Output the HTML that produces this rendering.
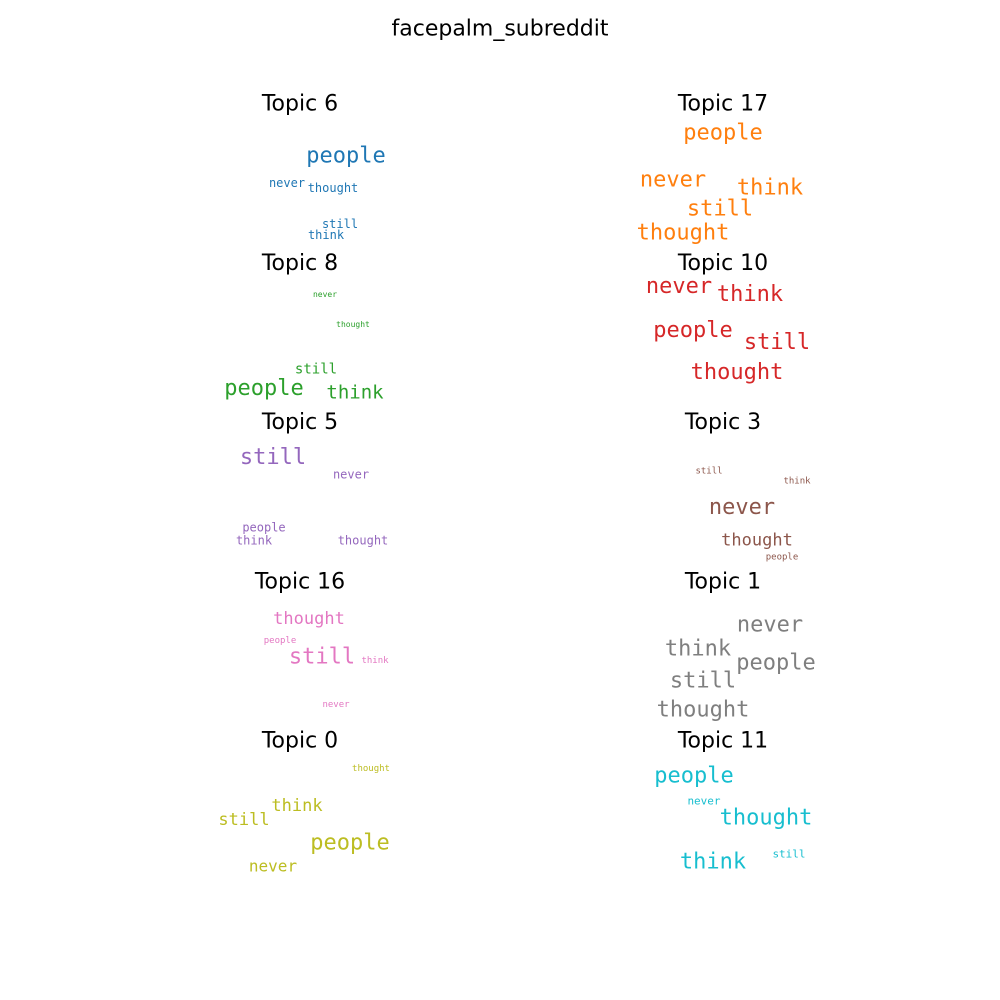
<!DOCTYPE html>
<html><head><meta charset="utf-8"><style>
html,body{margin:0;padding:0;background:#fff;}
svg{display:block;}
.t{font-family:"DejaVu Sans","Liberation Sans",sans-serif;fill:#000;}
.w{font-family:"DejaVu Sans Mono","Liberation Mono",monospace;}
</style></head><body>
<svg id="c" width="1000" height="1000" viewBox="0 0 1000 1000">
<text class="t" x="500" y="29" font-size="22" text-anchor="middle" dominant-baseline="central">facepalm_subreddit</text>
</svg>
<script>
const topicNames = ["Topic 6","Topic 17","Topic 8","Topic 10","Topic 5","Topic 3","Topic 16","Topic 1","Topic 0","Topic 11"];
const topicColors = ["#1f77b4","#ff7f0e","#2ca02c","#d62728","#9467bd","#8c564b","#e377c2","#7f7f7f","#bcbd22","#17becf"];
const topicWords = [
 ["people","never","thought","still","think"],
 ["people","never","think","still","thought"],
 ["never","thought","still","people","think"],
 ["never","think","people","still","thought"],
 ["still","never","people","think","thought"],
 ["still","think","never","thought","people"],
 ["thought","people","still","think","never"],
 ["never","think","people","still","thought"],
 ["thought","think","still","people","never"],
 ["people","never","thought","think","still"]
];
// relative word weights -> font size
const topicWeights = [
 [22,12,12,12,12],
 [22,22,22,22,22],
 [8,8,14,22,19],
 [22,22,22,22,22],
 [22,12,12,12,12],
 [9,9,22,17,9],
 [17,9,22,9,9],
 [22,22,22,22,22],
 [9,17,17,22,16],
 [22,11,22,22,11]
];
// word cloud layout offsets relative to each panel title
const layoutDX = [
 [46,-13,33,40,26],[0,-50,47,-3,-40],[25,53,16,-36,55],[-44,27,-30,54,14],
 [-27,51,-36,-46,63],[-14,74,19,34,59],[9,-20,22,75,36],[47,-25,53,-20,-20],
 [71,-3,-56,50,-27],[-29,-19,43,-10,66]
];
const layoutDY = [
 [52,79,84,120,131],[29,76,84,105,129],[31,61,106,125,129],[23,31,67,79,109],
 [35,52,105,118,118],[49,59,85,118,135],[37,59,75,79,123],[43,67,81,99,128],
 [28,65,79,102,125],[35,60,77,121,113]
];
const panelX = [300,723];
const panelY0 = 104, panelStep = 159.25;
const svg = document.getElementById('c');
const NS = 'http://www.w3.org/2000/svg';
topicNames.forEach((name,i)=>{
  const px = panelX[i%2], py = panelY0 + Math.floor(i/2)*panelStep;
  const g = document.createElementNS(NS,'g');
  
  
  const t = document.createElementNS(NS,'text');
  t.setAttribute('class','t'); t.setAttribute('x',px); t.setAttribute('y',py);
  t.setAttribute('font-size','22'); t.setAttribute('text-anchor','middle'); t.setAttribute('dominant-baseline','central');
  
  
  t.textContent = name; g.appendChild(t);
  topicWords[i].forEach((w,j)=>{
    const e = document.createElementNS(NS,'text');
    e.setAttribute('class','w'); e.setAttribute('x',px+layoutDX[i][j]); e.setAttribute('y',py+layoutDY[i][j]);
    e.setAttribute('font-size',topicWeights[i][j]); e.setAttribute('fill',topicColors[i]);
    e.setAttribute('text-anchor','middle'); e.setAttribute('dominant-baseline','central');
    
    
    e.textContent = w; g.appendChild(e);
  });
  svg.appendChild(g);
});
</script>
</body></html>
